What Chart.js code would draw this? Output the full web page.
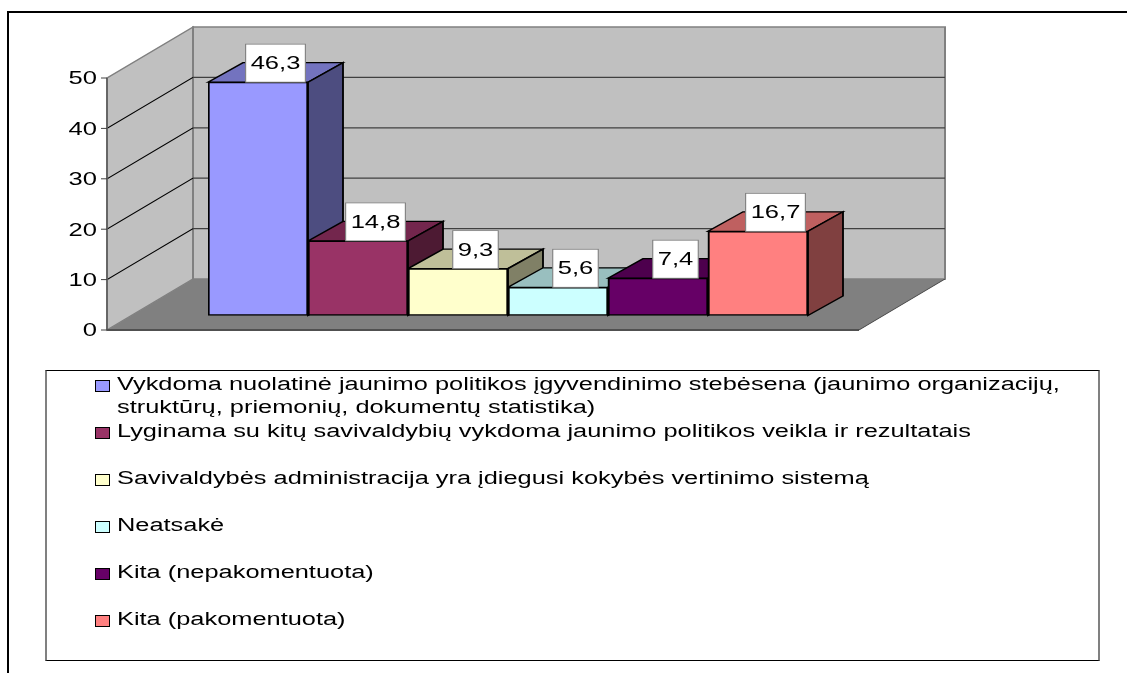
<!DOCTYPE html>
<html lang="lt">
<head>
    <meta charset="UTF-8">
    <title>Jaunimo politikos vertinimas</title>
    <script src="https://cdn.jsdelivr.net/npm/chart.js"></script>
    <style>
        body { margin: 0; background: #fff; overflow: hidden; font-family: "Liberation Sans", Arial, sans-serif; color: #000; }
        #frame { position: absolute; left: 7px; top: 11px; width: 1120px; height: 662px; border-top: 2px solid #000; border-left: 2px solid #000; box-sizing: border-box; }
        #chart { position: absolute; left: 0; top: 0; }
        #legend { position: absolute; left: 45px; top: 370px; width: 1055px; height: 291px; box-sizing: border-box; border: 1px solid #000; border-left: 2px solid #808080; border-right: 2px solid #808080; }
        .row { position: absolute; left: 0; width: 100%; }
        .swatch { position: absolute; left: 48px; top: 1px; width: 13px; height: 10px; border: 1px solid #000; }
        .label { position: absolute; left: 70px; top: -6px; font-size: 18px; line-height: 23px; white-space: pre; transform: scaleX(1.41); transform-origin: left top; }
    </style>
</head>
<body>
    <div id="frame"></div>
    <canvas id="chart" width="1127" height="673"></canvas>
    <div id="legend"></div>

    <script>
        const categories = [
            'Vykdoma nuolatinė jaunimo politikos įgyvendinimo stebėsena (jaunimo organizacijų,\nstruktūrų, priemonių, dokumentų statistika)',
            'Lyginama su kitų savivaldybių vykdoma jaunimo politikos veikla ir rezultatais',
            'Savivaldybės administracija yra įdiegusi kokybės vertinimo sistemą',
            'Neatsakė',
            'Kita (nepakomentuota)',
            'Kita (pakomentuota)'
        ];
        const values = [46.3, 14.8, 9.3, 5.6, 7.4, 16.7];
        const colors = ['#9999FF', '#993366', '#FFFFCC', '#CCFFFF', '#660066', '#FF8080'];
        const tickStep = 10;
        const tickMax = 50;

        // the original picture is stretched sideways, so everything on the canvas is too
        const SX = 1.42;
        const plotLeft = 208, plotRight = 808, plotTop = 78, plotBottom = 330;
        const axisX = 107, floorRight = 859;
        const wallDx = 86, wallDy = 51;      // depth of the walls
        const barDx = 35, barDy = 19.5;      // depth of the bars
        const barLift = 14.5;                // bars stand that far behind the front edge
        const pxPerUnit = (plotBottom - plotTop) / tickMax;

        function shade(hex, f) {
            const n = parseInt(hex.slice(1), 16);
            const r = Math.round((n >> 16 & 255) * f), g = Math.round((n >> 8 & 255) * f), b = Math.round((n & 255) * f);
            return `rgb(${r}, ${g}, ${b})`;
        }

        function poly(ctx, pts, fill, stroke, lw) {
            ctx.beginPath();
            pts.forEach((p, i) => i ? ctx.lineTo(p[0], p[1]) : ctx.moveTo(p[0], p[1]));
            ctx.closePath();
            if (fill) { ctx.fillStyle = fill; ctx.fill(); }
            if (stroke) { ctx.strokeStyle = stroke; ctx.lineWidth = lw; ctx.stroke(); }
        }

        function line(ctx, x1, y1, x2, y2, color, lw) {
            ctx.beginPath();
            ctx.moveTo(x1, y1);
            ctx.lineTo(x2, y2);
            ctx.strokeStyle = color;
            ctx.lineWidth = lw;
            ctx.stroke();
        }

        const stretch = {
            id: 'stretch',
            // tick labels sit a little lower than the ticks in the original
            afterUpdate(chart) {
                chart.scales.yAxis.getLabelItems(chart.chartArea).forEach(item => { item.options.translation[1] += 1.5; });
            },
            beforeDraw(chart) { chart.ctx.save(); chart.ctx.scale(SX, 1); },
            afterDraw(chart) { chart.ctx.restore(); }
        };

        // walls, floor and grid
        const box3d = {
            id: 'box3d',
            beforeDatasetsDraw(chart) {
                const ctx = chart.ctx, axis = chart.scales.yAxis;
                const x0 = axisX / SX, xb = (axisX + wallDx) / SX, xr = (floorRight + wallDx) / SX, xf = floorRight / SX;
                const y0 = axis.getPixelForValue(0), yT = axis.getPixelForValue(tickMax);

                ctx.save();
                poly(ctx, [[x0, y0], [xb, y0 - wallDy], [xr, y0 - wallDy], [xf, y0]], '#808080');
                poly(ctx, [[x0, yT], [xb, yT - wallDy], [xb, y0 - wallDy], [x0, y0]], '#C0C0C0', '#808080', 1.2);
                poly(ctx, [[xb, yT - wallDy], [xr, yT - wallDy], [xr, y0 - wallDy], [xb, y0 - wallDy]], '#C0C0C0', '#808080', 1.4);

                for (let v = tickStep; v < tickMax; v += tickStep) {
                    const y = axis.getPixelForValue(v);
                    line(ctx, x0, y, xb, y - wallDy, '#000', 0.9);
                    line(ctx, xb, y - wallDy, xr, y - wallDy, '#404040', 1.2);
                }
                line(ctx, x0, yT, x0, y0, '#606060', 1.2);
                line(ctx, x0, y0, xf, y0, '#505050', 1.8);
                line(ctx, xf, y0, xr, y0 - wallDy, '#404040', 0.8);
                for (let v = 0; v <= tickMax; v += tickStep) {
                    const y = axis.getPixelForValue(v);
                    line(ctx, (axisX - 6) / SX, y, x0, y, '#404040', 1);
                }

                // top and side of every bar, the front comes from the library
                const dx = barDx / SX;
                chart.getDatasetMeta(0).data.forEach((bar, i) => {
                    const l = bar.x - bar.width / 2, r = bar.x + bar.width / 2;
                    poly(ctx, [[l, bar.y], [l + dx, bar.y - barDy], [r + dx, bar.y - barDy], [r, bar.y]], shade(colors[i], 0.75), '#000', 1.3);
                    poly(ctx, [[r, bar.y], [r + dx, bar.y - barDy], [r + dx, bar.base - barDy], [r, bar.base]], shade(colors[i], 0.5), '#000', 1.3);
                });
                ctx.restore();
            },
            afterDatasetsDraw(chart) {
                const ctx = chart.ctx;
                ctx.save();
                ctx.font = '18px "Liberation Sans", Arial, sans-serif';
                ctx.textAlign = 'center';
                ctx.textBaseline = 'middle';
                chart.getDatasetMeta(0).data.forEach((bar, i) => {
                    const text = String(values[i]).replace('.', ',');
                    const w = ctx.measureText(text).width + 10 / SX;
                    const h = 38;
                    const cx = bar.x + barDx / SX / 2;
                    ctx.fillStyle = '#fff';
                    ctx.fillRect(cx - w / 2, bar.y - h, w, h);
                    ctx.strokeStyle = '#808080';
                    ctx.lineWidth = 0.8;
                    ctx.strokeRect(cx - w / 2, bar.y - h, w, h);
                    ctx.fillStyle = '#000';
                    ctx.fillText(text, cx, bar.y - h / 2 + 1);
                });
                ctx.restore();
            }
        };

        new Chart(document.getElementById('chart'), {
            type: 'bar',
            data: {
                labels: categories,
                datasets: [{
                    data: values,
                    backgroundColor: colors,
                    borderColor: '#000',
                    borderWidth: 1.5,
                    borderSkipped: false,
                    barPercentage: 1,
                    categoryPercentage: 1,
                    yAxisID: 'y'
                }]
            },
            options: {
                responsive: false,
                animation: false,
                events: [],
                layout: {
                    padding: { left: 0, top: plotTop, right: 1127 - plotRight / SX, bottom: 673 - plotBottom }
                },
                plugins: { legend: { display: false }, tooltip: { enabled: false } },
                scales: {
                    x: { display: false, grid: { display: false } },
                    // bars stand a bit behind the front edge of the floor
                    y: {
                        display: false,
                        min: -barLift / pxPerUnit,
                        max: tickMax - barLift / pxPerUnit
                    },
                    yAxis: {
                        position: 'left',
                        min: 0,
                        max: tickMax,
                        afterFit: s => {
                            s.width = plotLeft / SX;
                            s.paddingTop = 0;
                            s.paddingBottom = 0;
                        },
                        grid: { display: false, drawTicks: false },
                        border: { display: false },
                        ticks: {
                            stepSize: tickStep,
                            padding: (plotLeft - 97) / SX,
                            color: '#000',
                            font: { family: '"Liberation Sans", Arial, sans-serif', size: 18 }
                        }
                    }
                }
            },
            plugins: [stretch, box3d]
        });

        // legend rows have uneven room in the original, so it is laid out by hand
        const legend = document.getElementById('legend');
        categories.forEach((name, i) => {
            const row = document.createElement('div');
            row.className = 'row';
            row.style.top = (8 + i * 47) + 'px';
            const swatch = document.createElement('div');
            swatch.className = 'swatch';
            swatch.style.background = colors[i];
            const label = document.createElement('div');
            label.className = 'label';
            label.textContent = name;
            row.append(swatch, label);
            legend.append(row);
        });
    </script>
</body>
</html>
